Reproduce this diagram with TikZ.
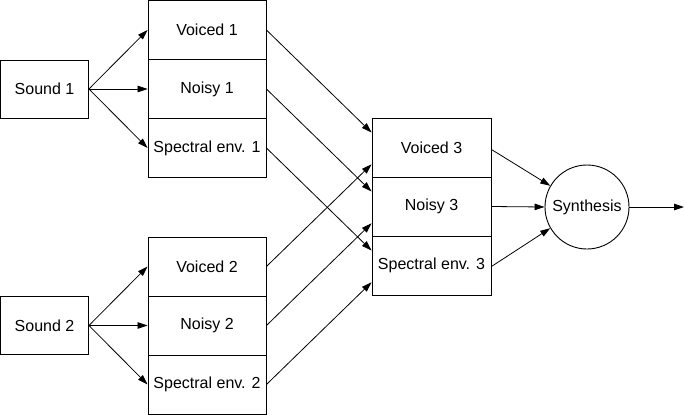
\documentclass[tikz,border=0pt]{standalone}
\usepackage{fontspec}
\setmainfont{Liberation Sans}
\usetikzlibrary{arrows.meta,calc}
\begin{document}
\begin{tikzpicture}[x=1pt,y=-1pt,
  every node/.style={font=\fontsize{16}{19}\selectfont},
  box/.style={draw, line width=0.9pt, rectangle, inner sep=0pt, minimum width=118pt, minimum height=59pt},
  src/.style={draw, line width=0.9pt, rectangle, inner sep=0pt, minimum width=88pt, minimum height=58pt},
  synth/.style={draw, line width=0.9pt, circle, inner sep=0pt, minimum size=84pt},
  arr/.style={line width=0.8pt, -{Triangle[length=10pt,width=6.5pt]}}]
\useasboundingbox (0,0) rectangle (684,415);
% sources
\node[src] (s1) at (44.5,89) {Sound 1};
\node[src] (s2) at (44.5,325.5) {Sound 2};
% group 1
\node[box] (v1) at (207,30) {Voiced 1};
\node[box] (n1) at (207,89) {Noisy 1};
\node[box] (e1) at (207,148) {Spectral env. 1};
% group 2
\node[box] (v2) at (207,266.5) {Voiced 2};
\node[box] (n2) at (207,325.5) {Noisy 2};
\node[box] (e2) at (207,384.5) {Spectral env. 2};
% group 3
\node[box, minimum width=119pt] (v3) at (431.5,147.5) {Voiced 3};
\node[box, minimum width=119pt] (n3) at (431.5,206.5) {Noisy 3};
\node[box, minimum width=119pt] (e3) at (431.5,265.5) {Spectral env. 3};
% synthesis
\node[synth] (syn) at (587,207) {Synthesis};
\coordinate (out) at (684,207);
% arrows source -> group
\draw[arr] (s1.east) -- (v1.west);
\draw[arr] (s1.east) -- (n1.west);
\draw[arr] (s1.east) -- (e1.west);
\draw[arr] (s2.east) -- (v2.west);
\draw[arr] (s2.east) -- (n2.west);
\draw[arr] (s2.east) -- (e2.west);
% group1/2 -> group3
\draw[arr] (v1.east) -- ($(v3.north west)!0.25!(v3.south west)$);
\draw[arr] (n1.east) -- ($(n3.north west)!0.25!(n3.south west)$);
\draw[arr] (e1.east) -- ($(e3.north west)!0.25!(e3.south west)$);
\draw[arr] (v2.east) -- ($(v3.north west)!0.78!(v3.south west)$);
\draw[arr] (n2.east) -- ($(n3.north west)!0.78!(n3.south west)$);
\draw[arr] (e2.east) -- ($(e3.north west)!0.78!(e3.south west)$);
% group3 -> synthesis
\draw[arr] ($(v3.east)+(0,2)$) -- (syn.150);
\draw[arr] (n3.east) -- (syn.west);
\draw[arr] ($(e3.east)+(0,1)$) -- (syn.210);
\draw[arr] (syn.east) -- (out);
\end{tikzpicture}
\end{document}
